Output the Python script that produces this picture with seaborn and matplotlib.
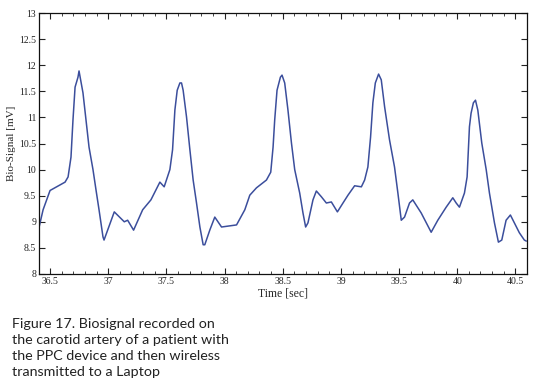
import numpy as np
import pandas as pd
import matplotlib
matplotlib.use('Agg')
import matplotlib.pyplot as plt
import seaborn as sns
from matplotlib.ticker import MultipleLocator

# traced biosignal (time in sec, signal in mV)
time_sec = [36.406, 36.44, 36.5, 36.629, 36.655, 36.68, 36.697, 36.715, 36.74, 36.749,
            36.783, 36.809, 36.835, 36.869, 36.895, 36.921, 36.955, 36.964, 37.052, 37.138,
            37.167, 37.218, 37.296, 37.367, 37.444, 37.481,
            37.53, 37.553, 37.573, 37.593, 37.616, 37.63, 37.644, 37.673, 37.702, 37.73,
            37.759, 37.788, 37.816, 37.83, 37.873, 37.916, 37.974, 38.103, 38.174, 38.217,
            38.274, 38.36, 38.397, 38.417, 38.431, 38.451, 38.48, 38.494, 38.517, 38.545,
            38.575, 38.603, 38.646, 38.674, 38.697, 38.717, 38.76, 38.789, 38.832, 38.875,
            38.918, 38.97, 39.018, 39.061, 39.118, 39.176, 39.204, 39.232, 39.255, 39.275,
            39.296, 39.324, 39.347, 39.376, 39.418, 39.461, 39.49, 39.519, 39.547, 39.59,
            39.618, 39.69, 39.776, 39.833, 39.905, 39.962, 39.991, 40.019, 40.062, 40.085,
            40.105, 40.119, 40.139, 40.157, 40.177, 40.211, 40.249, 40.277, 40.32, 40.354,
            40.383, 40.42, 40.457, 40.491, 40.534, 40.577, 40.594]
signal_mv = [8.9, 9.23, 9.6, 9.76, 9.86, 10.24, 10.95, 11.58, 11.77, 11.89,
             11.47, 10.95, 10.43, 10.0, 9.61, 9.23, 8.71, 8.65, 9.19, 9.0,
             9.03, 8.84, 9.23, 9.42, 9.76, 9.67,
             10.0, 10.38, 11.14, 11.52, 11.66, 11.66, 11.52, 11.01, 10.38, 9.8,
             9.36, 8.9, 8.56, 8.56, 8.84, 9.09, 8.9, 8.94, 9.23, 9.51,
             9.65, 9.8, 9.95, 10.43, 10.95, 11.52, 11.77, 11.81, 11.66, 11.14,
             10.51, 10.0, 9.55, 9.17, 8.9, 8.98, 9.42, 9.59, 9.48, 9.36,
             9.38, 9.19, 9.36, 9.51, 9.69, 9.67, 9.8, 10.05, 10.62, 11.28,
             11.66, 11.83, 11.72, 11.2, 10.57, 10.05, 9.55, 9.03, 9.09, 9.36,
             9.42, 9.17, 8.8, 9.03, 9.28, 9.46, 9.36, 9.28, 9.55, 9.86,
             10.82, 11.08, 11.28, 11.33, 11.14, 10.51, 10.0, 9.55, 8.98, 8.61,
             8.65, 9.03, 9.13, 8.98, 8.79, 8.65, 8.63]

x_ticks = [36.5, 37, 37.5, 38, 38.5, 39, 39.5, 40, 40.5]
x_tick_labels = ["36.5", "37", "37.5", "38", "38.5", "39", "39.5", "40", "40.5"]
y_ticks = [8, 8.5, 9, 9.5, 10, 10.5, 11, 11.5, 12, 12.5, 13]
y_tick_labels = ["8", "8.5", "9", "9.5", "10", "10.5", "11", "11.5", "12", "12.5", "13"]

caption = ["Figure 17. Biosignal recorded on",
           "the carotid artery of a patient with",
           "the PPC device and then wireless",
           "transmitted to a Laptop"]

sns.set_style("ticks")
plt.rcParams['font.family'] = ['Liberation Serif', 'DejaVu Serif']

df = pd.DataFrame({'t': time_sec, 'v': signal_mv})

fig = plt.figure(figsize=(5.38, 3.84), dpi=100)
ax = fig.add_axes([0.0725, 0.2865, 0.9071, 0.6796])
sns.lineplot(data=df, x='t', y='v', ax=ax, color='#3b4e9c', linewidth=1.1, sort=False)

ax.set_xlim(36.405, 40.60)
ax.set_ylim(8, 13)
ax.set_xticks(x_ticks)
ax.set_xticklabels(x_tick_labels)
ax.set_yticks(y_ticks)
ax.set_yticklabels(y_tick_labels)
ax.xaxis.set_minor_locator(MultipleLocator(0.1))
ax.tick_params(which='major', direction='in', length=4, width=0.8,
               top=True, right=True, labelsize=7, pad=2, colors='#222222')
ax.tick_params(which='minor', direction='in', length=2, width=0.6, top=True)
ax.tick_params(axis='y', labelright=False)
for s in ax.spines.values():
    s.set_linewidth(0.9)
    s.set_color('#111111')

ax.set_xlabel("Time [sec]", fontsize=8.5, labelpad=1)
ax.set_ylabel("Bio-Signal [mV]", fontsize=8, labelpad=2)

y0 = 0.155
for i, line in enumerate(caption):
    fig.text(0.022, y0 - i * 0.041, line, fontsize=10.3, family=['Lato', 'DejaVu Sans'],
             color='#222222', va='center', ha='left')

fig.savefig('out.png', dpi=100)
